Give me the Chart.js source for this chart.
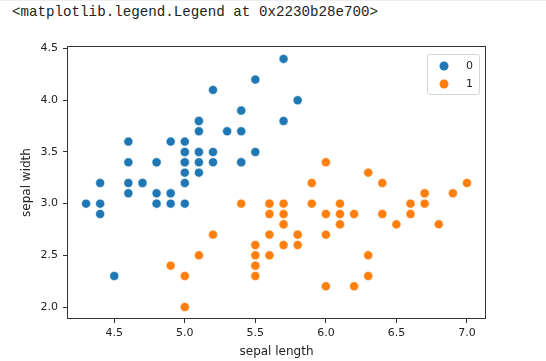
<!DOCTYPE html>
<html lang="en">
<head>
    <meta charset="UTF-8">
    <title>sepal length vs sepal width</title>
    <script src="https://cdn.jsdelivr.net/npm/chart.js"></script>
    <style>
        html, body { margin: 0; padding: 0; background: #fff; }
        #wrap { position: relative; width: 546px; height: 361px; border-top: 1px solid #eee; box-sizing: border-box; }
        #out { position: absolute; left: 12px; top: 2px; font: 14.2px "Liberation Mono", "DejaVu Sans Mono", monospace; color: #222; line-height: 18px; white-space: pre; }
        canvas { position: absolute; left: 0; top: 0; }
    </style>
</head>
<body>
<div id="wrap">
    <div id="out">&lt;matplotlib.legend.Legend at 0x2230b28e700&gt;</div>
    <canvas id="irisChart" width="546" height="360"></canvas>
</div>

<script>
    // class 0 (setosa)
    var sepalLength0 = [5.1,4.9,4.7,4.6,5.0,5.4,4.6,5.0,4.4,4.9,5.4,4.8,4.8,4.3,5.8,5.7,5.4,5.1,5.7,5.1,
                        5.4,5.1,4.6,5.1,4.8,5.0,5.0,5.2,5.2,4.7,4.8,5.4,5.2,5.5,4.9,5.0,5.5,4.9,4.4,5.1,
                        5.0,4.5,4.4,5.0,5.1,4.8,5.1,4.6,5.3,5.0];
    var sepalWidth0  = [3.5,3.0,3.2,3.1,3.6,3.9,3.4,3.4,2.9,3.1,3.7,3.4,3.0,3.0,4.0,4.4,3.9,3.5,3.8,3.8,
                        3.4,3.7,3.6,3.3,3.4,3.0,3.4,3.5,3.4,3.2,3.1,3.4,4.1,4.2,3.1,3.2,3.5,3.6,3.0,3.4,
                        3.5,2.3,3.2,3.5,3.8,3.0,3.8,3.2,3.7,3.3];
    // class 1 (versicolor)
    var sepalLength1 = [7.0,6.4,6.9,5.5,6.5,5.7,6.3,4.9,6.6,5.2,5.0,5.9,6.0,6.1,5.6,6.7,5.6,5.8,6.2,5.6,
                        5.9,6.1,6.3,6.1,6.4,6.6,6.8,6.7,6.0,5.7,5.5,5.5,5.8,6.0,5.4,6.0,6.7,6.3,5.6,5.5,
                        5.5,6.1,5.8,5.0,5.6,5.7,5.7,6.2,5.1,5.7];
    var sepalWidth1  = [3.2,3.2,3.1,2.3,2.8,2.8,3.3,2.4,2.9,2.7,2.0,3.0,2.2,2.9,2.9,3.1,3.0,2.7,2.2,2.5,
                        3.2,2.8,2.5,2.8,2.9,3.0,2.8,3.0,2.9,2.6,2.4,2.4,2.7,2.7,3.0,3.4,3.1,2.3,3.0,2.5,
                        2.6,3.0,2.6,2.3,2.7,3.0,2.9,2.9,2.5,2.8];

    var classLabels = ['0', '1'];
    var classColors = ['#1f77b4', '#ff7f0e'];
    var xTicks = [4.5, 5.0, 5.5, 6.0, 6.5, 7.0];
    var yTicks = [2.0, 2.5, 3.0, 3.5, 4.0, 4.5];

    function toPoints(xs, ys) {
        return xs.map(function (x, i) { return { x: x, y: ys[i] }; });
    }

    // frame around the plot, like matplotlib spines
    var boxPlugin = {
        id: 'box',
        afterDraw: function (chart) {
            var a = chart.chartArea, c = chart.ctx;
            c.save();
            c.strokeStyle = '#333';
            c.lineWidth = 1;
            c.strokeRect(Math.round(a.left) + 0.5, Math.round(a.top) + 0.5,
                         Math.round(a.right - a.left) - 1, Math.round(a.bottom - a.top) - 1);
            c.restore();
        }
    };

    // legend inside the axes, top right
    var innerLegend = {
        id: 'innerLegend',
        afterDraw: function (chart) {
            var c = chart.ctx;
            var bx = 427, by = 53, bw = 52, bh = 40;
            c.save();
            c.fillStyle = 'rgba(255,255,255,0.8)';
            c.strokeStyle = '#d5d5d5';
            c.lineWidth = 1;
            c.beginPath();
            c.roundRect(bx + 0.5, by + 0.5, bw, bh, 2);
            c.fill();
            c.stroke();
            c.font = '11px "DejaVu Sans"';
            c.textBaseline = 'middle';
            chart.data.datasets.forEach(function (ds, i) {
                var cy = by + 12 + i * 18;
                c.fillStyle = ds.backgroundColor;
                c.beginPath();
                c.arc(bx + 17, cy, 4.5, 0, Math.PI * 2);
                c.fill();
                c.fillStyle = '#222';
                c.fillText(ds.label, bx + 39, cy);
            });
            c.restore();
        }
    };

    var ctx = document.getElementById('irisChart').getContext('2d');
    var chart = new Chart(ctx, {
        type: 'scatter',
        data: {
            datasets: [
                { label: classLabels[0], data: toPoints(sepalLength0, sepalWidth0),
                  backgroundColor: classColors[0], borderColor: '#fff', borderWidth: 0.5, pointRadius: 4.5 },
                { label: classLabels[1], data: toPoints(sepalLength1, sepalWidth1),
                  backgroundColor: classColors[1], borderColor: '#fff', borderWidth: 0.5, pointRadius: 4.5 }
            ]
        },
        options: {
            responsive: false,
            animation: false,
            layout: { padding: { top: 45, right: 60, left: 0, bottom: 0 } },
            plugins: {
                legend: { display: false },
                tooltip: { enabled: false }
            },
            scales: {
                x: {
                    min: 4.165, max: 7.135,
                    afterBuildTicks: function (s) { s.ticks = xTicks.map(function (v) { return { value: v }; }); },
                    afterFit: function (s) { s.height = 42; },
                    ticks: { color: '#222', font: { family: 'DejaVu Sans', size: 11 }, padding: 4,
                             maxRotation: 0, callback: function (v) { return v.toFixed(1); } },
                    grid: { drawOnChartArea: false, drawTicks: true, tickLength: 4, tickColor: '#333' },
                    border: { display: false },
                    title: { display: true, text: 'sepal length', color: '#222',
                             font: { family: 'DejaVu Sans', size: 12 }, padding: { top: 0, bottom: 2 } }
                },
                y: {
                    min: 1.884, max: 4.525,
                    afterBuildTicks: function (s) { s.ticks = yTicks.map(function (v) { return { value: v }; }); },
                    afterFit: function (s) { s.width = 67; },
                    ticks: { color: '#222', font: { family: 'DejaVu Sans', size: 11 }, padding: 5,
                             callback: function (v) { return v.toFixed(1); } },
                    grid: { drawOnChartArea: false, drawTicks: true, tickLength: 4, tickColor: '#333' },
                    border: { display: false },
                    title: { display: true, text: 'sepal width', color: '#222',
                             font: { family: 'DejaVu Sans', size: 12 }, padding: { top: 20, bottom: 0 } }
                }
            }
        },
        plugins: [boxPlugin, innerLegend]
    });
</script>
</body>
</html>
